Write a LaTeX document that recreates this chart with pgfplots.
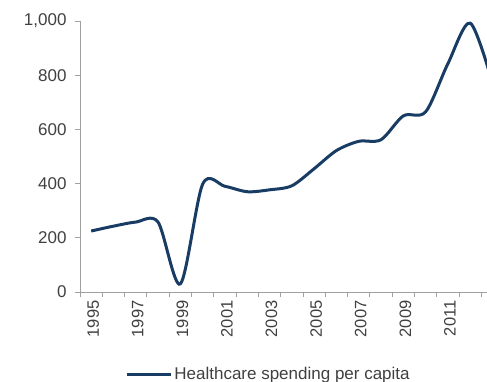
\documentclass[border=0pt]{standalone}
\usepackage{pgfplots}
\pgfplotsset{compat=1.18}
\usepackage{fontspec}
\setmainfont{Liberation Sans}
\definecolor{navy}{RGB}{25,60,100}
\definecolor{axgray}{RGB}{160,160,160}
\definecolor{txtgray}{RGB}{64,64,64}
\begin{document}
\begin{tikzpicture}[x=1pt,y=1pt]
\useasboundingbox (0,0) rectangle (487,381);
\clip (0,0) rectangle (487,381);
\begin{axis}[
  at={(80pt,89pt)}, anchor=origin,
  scale only axis, width=423.7pt, height=271pt,
  xmin=1994.5, xmax=2013.5, ymin=0, ymax=1000,
  axis x line=bottom, axis y line=left,
  axis line style={axgray, line width=1pt, -},
  every tick/.style={axgray, line width=1pt},
  tick align=outside,
  xtick={1995,1997,...,2013},
  major x tick style={draw=none},
  minor xtick={1994.5,1995.5,...,2013.5},
  minor tick length=5pt,
  major tick length=5pt,
  ytick={0,200,...,1000},
  /pgf/number format/assume math mode=true,
  yticklabel style={/pgf/number format/1000 sep={,}, font=\fontsize{17}{20}\selectfont, text=txtgray, xshift=-5pt},
  xticklabel style={/pgf/number format/1000 sep={}, rotate=90, anchor=east, font=\fontsize{16.5}{19}\selectfont, text=txtgray, yshift=-2pt},
  legend style={at={(0.445,-0.3026)}, anchor=center, draw=none, fill=none, font=\fontsize{17}{20}\selectfont, text=txtgray},
  legend image code/.code={\draw[#1, line width=3pt] (0pt,0pt) -- (44pt,0pt);},
  clip=false,
]
\addplot[navy, line width=3pt, smooth, tension=0.5] coordinates {
(1995,225) (1996,243) (1997,258) (1998,258) (1999,30) (2000,398)
(2001,390) (2002,370) (2003,377) (2004,392) (2005,455) (2006,522)
(2007,556) (2008,562) (2009,650) (2010,665) (2011,843) (2012,992) (2013,770)
};
\addlegendentry{Healthcare spending per capita}
\end{axis}
\end{tikzpicture}
\end{document}
